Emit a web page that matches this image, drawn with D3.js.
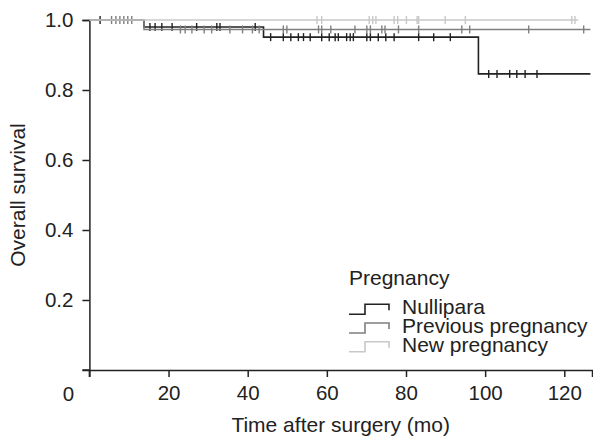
<!DOCTYPE html>
<html>
<head>
<meta charset="utf-8">
<script src="https://cdn.jsdelivr.net/npm/d3@7"></script>
<style>
  body { margin: 0; background: #fff; }
  svg text { font-family: "Liberation Sans", Arial, sans-serif; fill: #222; }
  .axis path, .axis line { stroke: #222; stroke-width: 1.5; }
</style>
</head>
<body>
<svg id="chart"></svg>
<script>
// x ticks and y ticks
const xTicks = [20, 40, 60, 80, 100, 120];
const yTicks = [0.2, 0.4, 0.6, 0.8, 1.0];

const groupNames = ["Nullipara", "Previous pregnancy", "New pregnancy"];
const groupColors = ["#222222", "#7f7f7f", "#c8c8c8"];

// step curves: [time, survival] where each value holds until the next step
const nulliparaSteps = [[0, 1.0], [13.8, 0.98], [44.0, 0.951], [98.3, 0.846]];
const previousSteps = [[0, 1.0], [13.8, 0.973]];
const newSteps = [[0, 1.0]];
const endTimes = [126.6, 126.6, 123.5];

// censored times
const nulliparaCensored = [2.7, 15.3, 16.6, 18.3, 20.9, 27.1, 32.2, 33.0, 41.9, 45.8, 49.0, 50.9,
  52.8, 54.1, 55.8, 58.7, 60.6, 62.1, 62.9, 65.0, 65.9, 66.7, 70.1, 71.0, 73.0, 74.9, 77.0,
  83.2, 87.0, 91.2, 100.9, 103.0, 106.2, 108.0, 110.1, 113.1];
const previousCensored = [5.6, 6.7, 7.7, 8.7, 9.7, 10.7, 23.0, 24.2, 25.9, 29.0, 30.9, 35.5,
  38.7, 41.2, 42.9, 49.0, 49.9, 57.9, 58.7, 61.0, 67.1, 70.1, 71.0, 73.9, 74.7, 78.1, 83.2,
  94.1, 96.1, 111.0, 124.9];
const newCensored = [57.5, 58.7, 70.7, 71.6, 72.4, 77.0, 77.9, 80.1, 82.8, 83.2, 89.9, 95.0,
  121.9, 122.7];

const width = 593, height = 439;
const margin = {top: 20, right: 1, bottom: 68, left: 89.4};

const svg = d3.select("#chart")
    .attr("width", width)
    .attr("height", height);

const x = d3.scaleLinear().domain([0, 127]).range([margin.left, width - margin.right]);
const y = d3.scaleLinear().domain([0, 1]).range([height - margin.bottom - 1, margin.top]);

// axes
const xAxis = svg.append("g")
    .attr("class", "axis x")
    .attr("transform", `translate(0, ${y(0)})`)
    .call(d3.axisBottom(x).tickValues(xTicks).tickSizeOuter(0).tickSize(7).tickPadding(8));
xAxis.selectAll("text").style("font-size", "20.5px");

const yAxis = svg.append("g")
    .attr("class", "axis y")
    .attr("transform", `translate(${x(0)}, 0)`)
    .call(d3.axisLeft(y).tickValues(yTicks).tickFormat(d3.format(".1f")).tickSizeOuter(0).tickSize(7).tickPadding(9));
yAxis.selectAll("text").style("font-size", "20.5px");

// shared origin: axes run past each other
svg.append("line")
    .attr("x1", x(0) - 7).attr("x2", x(0))
    .attr("y1", y(0)).attr("y2", y(0))
    .attr("stroke", "#222").attr("stroke-width", 1.5);
svg.append("line")
    .attr("x1", x(0)).attr("x2", x(0))
    .attr("y1", y(0)).attr("y2", y(0) + 7)
    .attr("stroke", "#222").attr("stroke-width", 1.5);
svg.append("text")
    .attr("x", x(0) - 21)
    .attr("y", y(0) + 31)
    .attr("text-anchor", "middle")
    .style("font-size", "20.5px")
    .text("0");

// titles
svg.append("text")
    .attr("x", x(63.5))
    .attr("y", 432)
    .attr("text-anchor", "middle")
    .style("font-size", "21px")
    .text("Time after surgery (mo)");

svg.append("text")
    .attr("transform", `translate(25, ${y(0.5)}) rotate(-90)`)
    .attr("text-anchor", "middle")
    .style("font-size", "21px")
    .text("Overall survival");

// curves
const allSteps = [nulliparaSteps, previousSteps, newSteps];
const allCensored = [nulliparaCensored, previousCensored, newCensored];

const stepLine = d3.line()
    .curve(d3.curveStepAfter)
    .x(d => x(d[0]))
    .y(d => y(d[1]));

function survivalAt(steps, t) {
    let s = steps[0][1];
    steps.forEach(d => { if (d[0] <= t) s = d[1]; });
    return s;
}

allSteps.forEach((steps, i) => {
    const pts = steps.concat([[endTimes[i], steps[steps.length - 1][1]]]);
    const g = svg.append("g").attr("class", "curve");
    g.append("path")
        .datum(pts)
        .attr("d", stepLine)
        .attr("fill", "none")
        .attr("stroke", groupColors[i])
        .attr("stroke-width", 1.6);
    g.selectAll("line.censor")
        .data(allCensored[i])
        .join("line")
        .attr("class", "censor")
        .attr("x1", d => x(d)).attr("x2", d => x(d))
        .attr("y1", d => y(survivalAt(steps, d)) - 4)
        .attr("y2", d => y(survivalAt(steps, d)) + 4)
        .attr("stroke", groupColors[i])
        .attr("stroke-width", 1.4);
});

// legend
const legend = svg.append("g").attr("class", "legend");
legend.append("text")
    .attr("x", 349)
    .attr("y", 285)
    .style("font-size", "21px")
    .text("Pregnancy");

const rowBase = [314.3, 333, 351.7];
groupNames.forEach((name, i) => {
    const b = rowBase[i];
    legend.append("path")
        .attr("d", `M349,${b} H365 V${b - 10} H389 V${b - 4}`)
        .attr("fill", "none")
        .attr("stroke", groupColors[i])
        .attr("stroke-width", 1.6);
    legend.append("text")
        .attr("x", 402)
        .attr("y", b)
        .style("font-size", "21px")
        .text(name);
});
</script>
</body>
</html>
